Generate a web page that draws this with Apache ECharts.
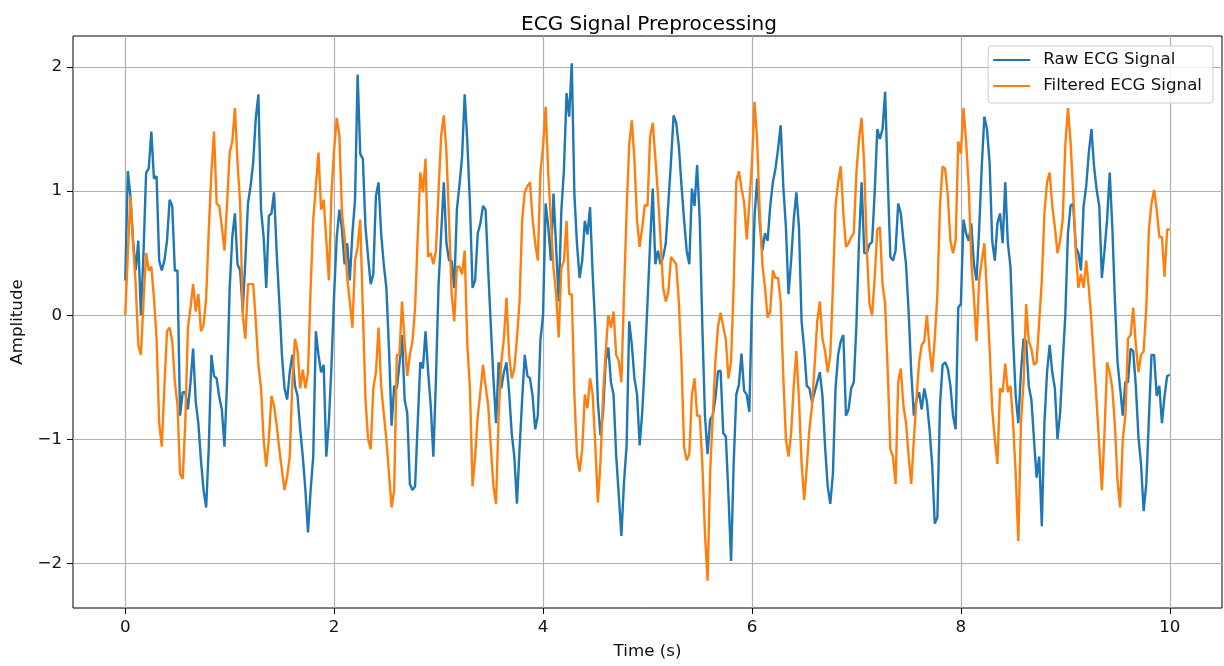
<!DOCTYPE html>
<html>
<head>
<meta charset="utf-8">
<script src="https://cdn.jsdelivr.net/npm/echarts@6/dist/echarts.min.js"></script>
<style>
  html, body { margin: 0; padding: 0; background: #fff; }
  #chart { width: 1224px; height: 666px; }
</style>
</head>
<body>
<div id="chart"></div>
<script>
// values were read every 0.025 s, from 0 to 10 s (one line = 1 s)
const sampleStep = 0.025;

// Raw ECG Signal
const rawValues = [
  0.28, 1.16, 0.96, 0.60, 0.36, 0.60, 0.00, 0.50, 1.15, 1.18, 1.48, 1.10, 1.12, 0.44, 0.36, 0.44, 0.60, 0.93, 0.88, 0.36, 0.36, -0.81, -0.62, -0.62, -0.76, -0.54, -0.27, -0.70, -0.87, -1.17, -1.41, -1.55, -1.06, -0.32, -0.49, -0.51, -0.66, -0.76, -1.06, -0.54,
  0.22, 0.63, 0.82, 0.41, 0.36, 0.03, 0.44, 0.90, 1.04, 1.23, 1.59, 1.78, 0.85, 0.63, 0.22, 0.80, 0.82, 0.99, 0.50, 0.11, -0.32, -0.59, -0.68, -0.46, -0.32, -0.57, -0.65, -0.92, -1.14, -1.41, -1.75, -1.41, -1.14, -0.13, -0.32, -0.46, -0.40, -1.14, -0.85, -0.40,
  0.17, 0.63, 0.85, 0.69, 0.41, 0.58, 0.28, 0.66, 0.93, 1.94, 1.30, 1.26, 0.71, 0.47, 0.25, 0.33, 0.96, 1.07, 0.66, 0.41, 0.22, -0.27, -0.89, -0.57, -0.59, -0.40, -0.16, -0.68, -0.79, -1.36, -1.41, -1.38, -0.87, -0.38, -0.43, -0.13, -0.46, -0.73, -1.14, -0.51,
  0.25, 0.66, 1.07, 0.58, 0.44, 0.44, 0.22, 0.85, 1.05, 1.28, 1.78, 1.40, 0.90, 0.22, 0.28, 0.66, 0.74, 0.88, 0.85, 0.36, -0.08, -0.51, -0.87, -0.38, -0.59, -0.46, -0.38, -0.62, -0.95, -1.14, -1.52, -1.08, -0.68, -0.32, -0.49, -0.51, -0.65, -0.92, -0.81, -0.20,
  0.00, 0.90, 0.71, 0.44, 0.98, 0.55, 0.11, 0.84, 1.17, 1.79, 1.60, 2.03, 0.98, 0.57, 0.30, 0.44, 0.76, 0.65, 0.87, 0.33, -0.10, -0.70, -0.97, -0.78, -0.37, -0.26, -0.54, -0.64, -1.13, -1.45, -1.78, -1.35, -1.05, -0.05, -0.24, -0.51, -0.64, -1.05, -0.78, -0.37,
  0.10, 0.58, 1.02, 0.41, 0.52, 0.41, 0.47, 0.58, 0.91, 1.24, 1.61, 1.55, 1.36, 1.05, 0.77, 0.52, 0.41, 1.02, 0.88, 1.21, 0.77, -0.09, -0.81, -1.12, -0.84, -0.81, -0.67, -0.45, -0.45, -0.95, -0.98, -1.45, -1.98, -1.20, -0.64, -0.56, -0.31, -0.61, -0.64, -0.78,
  0.10, 0.80, 1.10, 0.74, 0.52, 0.66, 0.60, 0.88, 1.07, 1.18, 1.34, 1.53, 1.04, 0.71, 0.17, 0.44, 0.77, 0.99, 0.71, -0.05, -0.27, -0.57, -0.59, -0.70, -0.62, -0.54, -0.46, -0.65, -1.06, -1.38, -1.52, -1.28, -0.59, -0.32, -0.21, -0.16, -0.81, -0.76, -0.59, -0.54,
  -0.08, 0.60, 1.07, 0.50, 0.50, 0.57, 0.59, 0.99, 1.50, 1.42, 1.50, 1.80, 1.10, 0.47, 0.44, 0.52, 0.90, 0.82, 0.60, 0.41, 0.03, -0.46, -0.81, -0.68, -0.62, -0.76, -0.59, -0.70, -0.92, -1.20, -1.68, -1.63, -0.73, -0.40, -0.38, -0.43, -0.57, -0.81, -0.92, 0.06,
  0.09, 0.77, 0.66, 0.60, 0.74, 0.41, 0.28, 0.69, 1.20, 1.60, 1.50, 1.23, 0.60, 0.44, 0.74, 0.82, 0.58, 1.07, 0.58, 0.39, -0.19, -0.65, -0.87, -0.46, -0.19, -0.21, -0.57, -0.68, -1.00, -1.31, -1.14, -1.70, -0.87, -0.46, -0.24, -0.46, -0.59, -1.00, -0.79, -0.38,
  0.00, 0.66, 0.88, 0.90, 0.55, 0.50, 0.36, 0.88, 1.04, 1.31, 1.50, 1.20, 1.01, 0.88, 0.30, 0.52, 0.77, 1.15, 0.71, 0.11, -0.38, -0.59, -0.81, -0.54, -0.54, -0.27, -0.29, -0.57, -0.98, -1.20, -1.58, -1.36, -0.84, -0.32, -0.32, -0.65, -0.57, -0.87, -0.65, -0.49,
  -0.48
];

// Filtered ECG Signal
const filteredValues = [
  0.00, 0.50, 0.96, 0.58, 0.25, -0.24, -0.32, 0.11, 0.50, 0.36, 0.39, 0.14, -0.19, -0.87, -1.06, -0.57, -0.13, -0.10, -0.21, -0.54, -0.72, -1.28, -1.32, -0.87, -0.10, 0.06, 0.25, 0.03, 0.17, -0.13, -0.08, 0.14, 0.69, 1.15, 1.48, 0.90, 0.88, 0.71, 0.52, 0.90,
  1.31, 1.40, 1.67, 1.23, 0.90, 0.00, -0.19, 0.25, 0.25, 0.25, -0.05, -0.40, -0.59, -1.00, -1.22, -1.00, -0.65, -0.73, -0.89, -1.08, -1.25, -1.41, -1.30, -1.14, -0.54, -0.19, -0.29, -0.59, -0.44, -0.59, -0.46, 0.22, 0.77, 1.04, 1.31, 0.85, 0.93, 0.60, 0.28, 0.99,
  1.34, 1.59, 1.45, 0.82, 0.63, 0.30, 0.11, -0.10, 0.44, 0.55, 0.77, 0.03, -0.68, -1.00, -1.08, -0.59, -0.46, -0.10, -0.57, -0.79, -1.00, -1.28, -1.55, -1.41, -0.32, -0.32, 0.11, -0.21, -0.49, -0.32, -0.21, 0.06, 0.63, 1.15, 0.99, 1.26, 0.47, 0.50, 0.41, 0.52,
  1.01, 1.45, 1.61, 1.31, 0.77, 0.17, -0.05, 0.39, 0.39, 0.33, 0.52, -0.24, -0.59, -1.38, -1.14, -0.81, -0.62, -0.40, -0.57, -0.73, -1.06, -1.38, -1.52, -0.81, -0.38, -0.19, 0.14, -0.32, -0.51, -0.43, -0.19, 0.11, 0.77, 0.99, 1.04, 1.07, 0.77, 0.58, 0.44, 1.15,
  1.36, 1.68, 1.14, 0.76, 0.38, 0.17, -0.18, 0.38, 0.44, 0.76, 0.17, 0.17, -0.64, -1.13, -1.26, -1.08, -0.64, -0.75, -0.51, -0.64, -1.05, -1.51, -1.18, -0.64, -0.29, 0.00, -0.10, 0.03, -0.32, -0.37, -0.54, 0.17, 0.84, 1.38, 1.57, 1.25, 0.76, 0.55, 0.71, 0.89,
  0.88, 1.44, 1.55, 1.27, 0.97, 0.61, 0.22, 0.11, 0.19, 0.47, 0.44, 0.41, 0.11, -0.37, -1.06, -1.17, -1.12, -0.64, -0.51, -0.81, -0.81, -1.20, -1.76, -2.14, -1.26, -0.81, -0.37, -0.09, 0.02, -0.09, -0.20, -0.51, -0.37, 0.24, 1.08, 1.16, 1.02, 0.91, 0.61, 0.91,
  1.23, 1.72, 1.40, 0.82, 0.41, 0.22, -0.02, 0.03, 0.36, 0.30, 0.30, 0.11, -0.49, -1.00, -1.14, -0.95, -0.57, -0.29, -0.68, -1.19, -1.49, -1.22, -0.92, -0.73, -0.40, -0.05, 0.11, -0.19, -0.29, -0.46, -0.32, 0.22, 0.88, 1.07, 1.20, 0.82, 0.55, 0.58, 0.63, 0.66,
  1.15, 1.42, 1.59, 1.20, 0.52, 0.09, 0.00, 0.30, 0.69, 0.71, 0.25, 0.09, -0.46, -1.08, -1.14, -1.36, -0.54, -0.43, -0.73, -0.87, -1.14, -1.36, -1.00, -0.68, -0.38, -0.24, -0.21, 0.00, -0.27, -0.46, -0.19, 0.17, 0.88, 1.20, 1.18, 0.96, 0.60, 0.50, 0.60, 1.40,
  1.30, 1.67, 1.40, 1.04, 0.44, 0.14, -0.21, 0.28, 0.44, 0.58, 0.17, -0.27, -0.76, -1.00, -1.20, -0.59, -0.62, -0.39, -0.62, -0.57, -0.87, -1.28, -1.82, -0.87, -0.54, 0.09, -0.21, -0.27, -0.40, -0.38, -0.05, 0.28, 0.82, 1.07, 1.15, 0.88, 0.71, 0.50, 0.60, 0.77,
  1.37, 1.67, 1.40, 0.99, 0.52, 0.22, 0.33, 0.22, 0.44, 0.22, -0.05, -0.38, -0.70, -1.06, -1.41, -0.95, -0.38, -0.46, -0.59, -0.89, -1.34, -1.55, -1.00, -0.81, -0.19, -0.16, 0.06, -0.24, -0.46, -0.32, -0.29, 0.06, 0.69, 0.90, 1.01, 0.85, 0.63, 0.63, 0.31, 0.69,
  0.69
];

const xTicks = [0, 2, 4, 6, 8, 10];
const yTicks = [-2, -1, 0, 1, 2];

const toPoints = values => values.map((v, i) => [+(i * sampleStep).toFixed(3), v]);

const font = 'DejaVu Sans';
const chart = echarts.init(document.getElementById('chart'));

chart.setOption({
  animation: false,
  backgroundColor: '#ffffff',
  title: {
    text: 'ECG Signal Preprocessing',
    left: 644,
    textAlign: 'center',
    top: 10,
    textStyle: { fontFamily: font, fontSize: 20, fontWeight: 'normal', color: '#000' }
  },
  legend: {
    orient: 'vertical',
    right: 11,
    top: 46,
    padding: [5, 11, 8, 5],
    icon: 'rect',
    itemWidth: 37,
    itemHeight: 2,
    itemGap: 8,
    backgroundColor: 'rgba(255,255,255,0.8)',
    borderColor: '#cccccc',
    borderWidth: 1,
    borderRadius: 3,
    textStyle: { fontFamily: font, fontSize: 16.7, color: '#111', lineHeight: 18, padding: [0, 0, 0, 8] },
    data: ['Raw ECG Signal', 'Filtered ECG Signal']
  },
  grid: {
    left: 73,
    right: 2,
    top: 36,
    bottom: 58,
    show: true,
    borderColor: '#000',
    borderWidth: 1,
    containLabel: false
  },
  xAxis: {
    type: 'value',
    min: -0.5,
    max: 10.5,
    name: 'Time (s)',
    nameLocation: 'middle',
    nameGap: 35,
    nameTextStyle: { fontFamily: font, fontSize: 16.7, color: '#111' },
    axisLine: { show: false, onZero: false },
    axisTick: { show: true, inside: false, length: 6, customValues: xTicks, lineStyle: { color: '#000', width: 1 } },
    axisLabel: { customValues: xTicks, margin: 11, fontFamily: font, fontSize: 16.7, color: '#111' },
    splitLine: { show: true, lineStyle: { color: '#b0b0b0', width: 1.2 } }
  },
  yAxis: {
    type: 'value',
    min: -2.36,
    max: 2.25,
    name: 'Amplitude',
    nameLocation: 'middle',
    nameGap: 45,
    nameTextStyle: { fontFamily: font, fontSize: 16.7, color: '#111' },
    axisLine: { show: false, onZero: false },
    axisTick: { show: true, inside: false, length: 6, customValues: yTicks, lineStyle: { color: '#000', width: 1 } },
    axisLabel: {
      customValues: yTicks,
      margin: 11,
      fontFamily: font,
      fontSize: 16.7,
      color: '#111',
      formatter: v => String(v).replace('-', '\u2212')
    },
    splitLine: { show: true, lineStyle: { color: '#b0b0b0', width: 1.2 } }
  },
  series: [
    {
      name: 'Raw ECG Signal',
      type: 'line',
      data: toPoints(rawValues),
      symbol: 'none',
      lineStyle: { color: '#1f77b4', width: 2.4 },
      itemStyle: { color: '#1f77b4' },
      z: 2
    },
    {
      name: 'Filtered ECG Signal',
      type: 'line',
      data: toPoints(filteredValues),
      symbol: 'none',
      lineStyle: { color: '#ff7f0e', width: 2.4 },
      itemStyle: { color: '#ff7f0e' },
      z: 3
    }
  ]
});
</script>
</body>
</html>
